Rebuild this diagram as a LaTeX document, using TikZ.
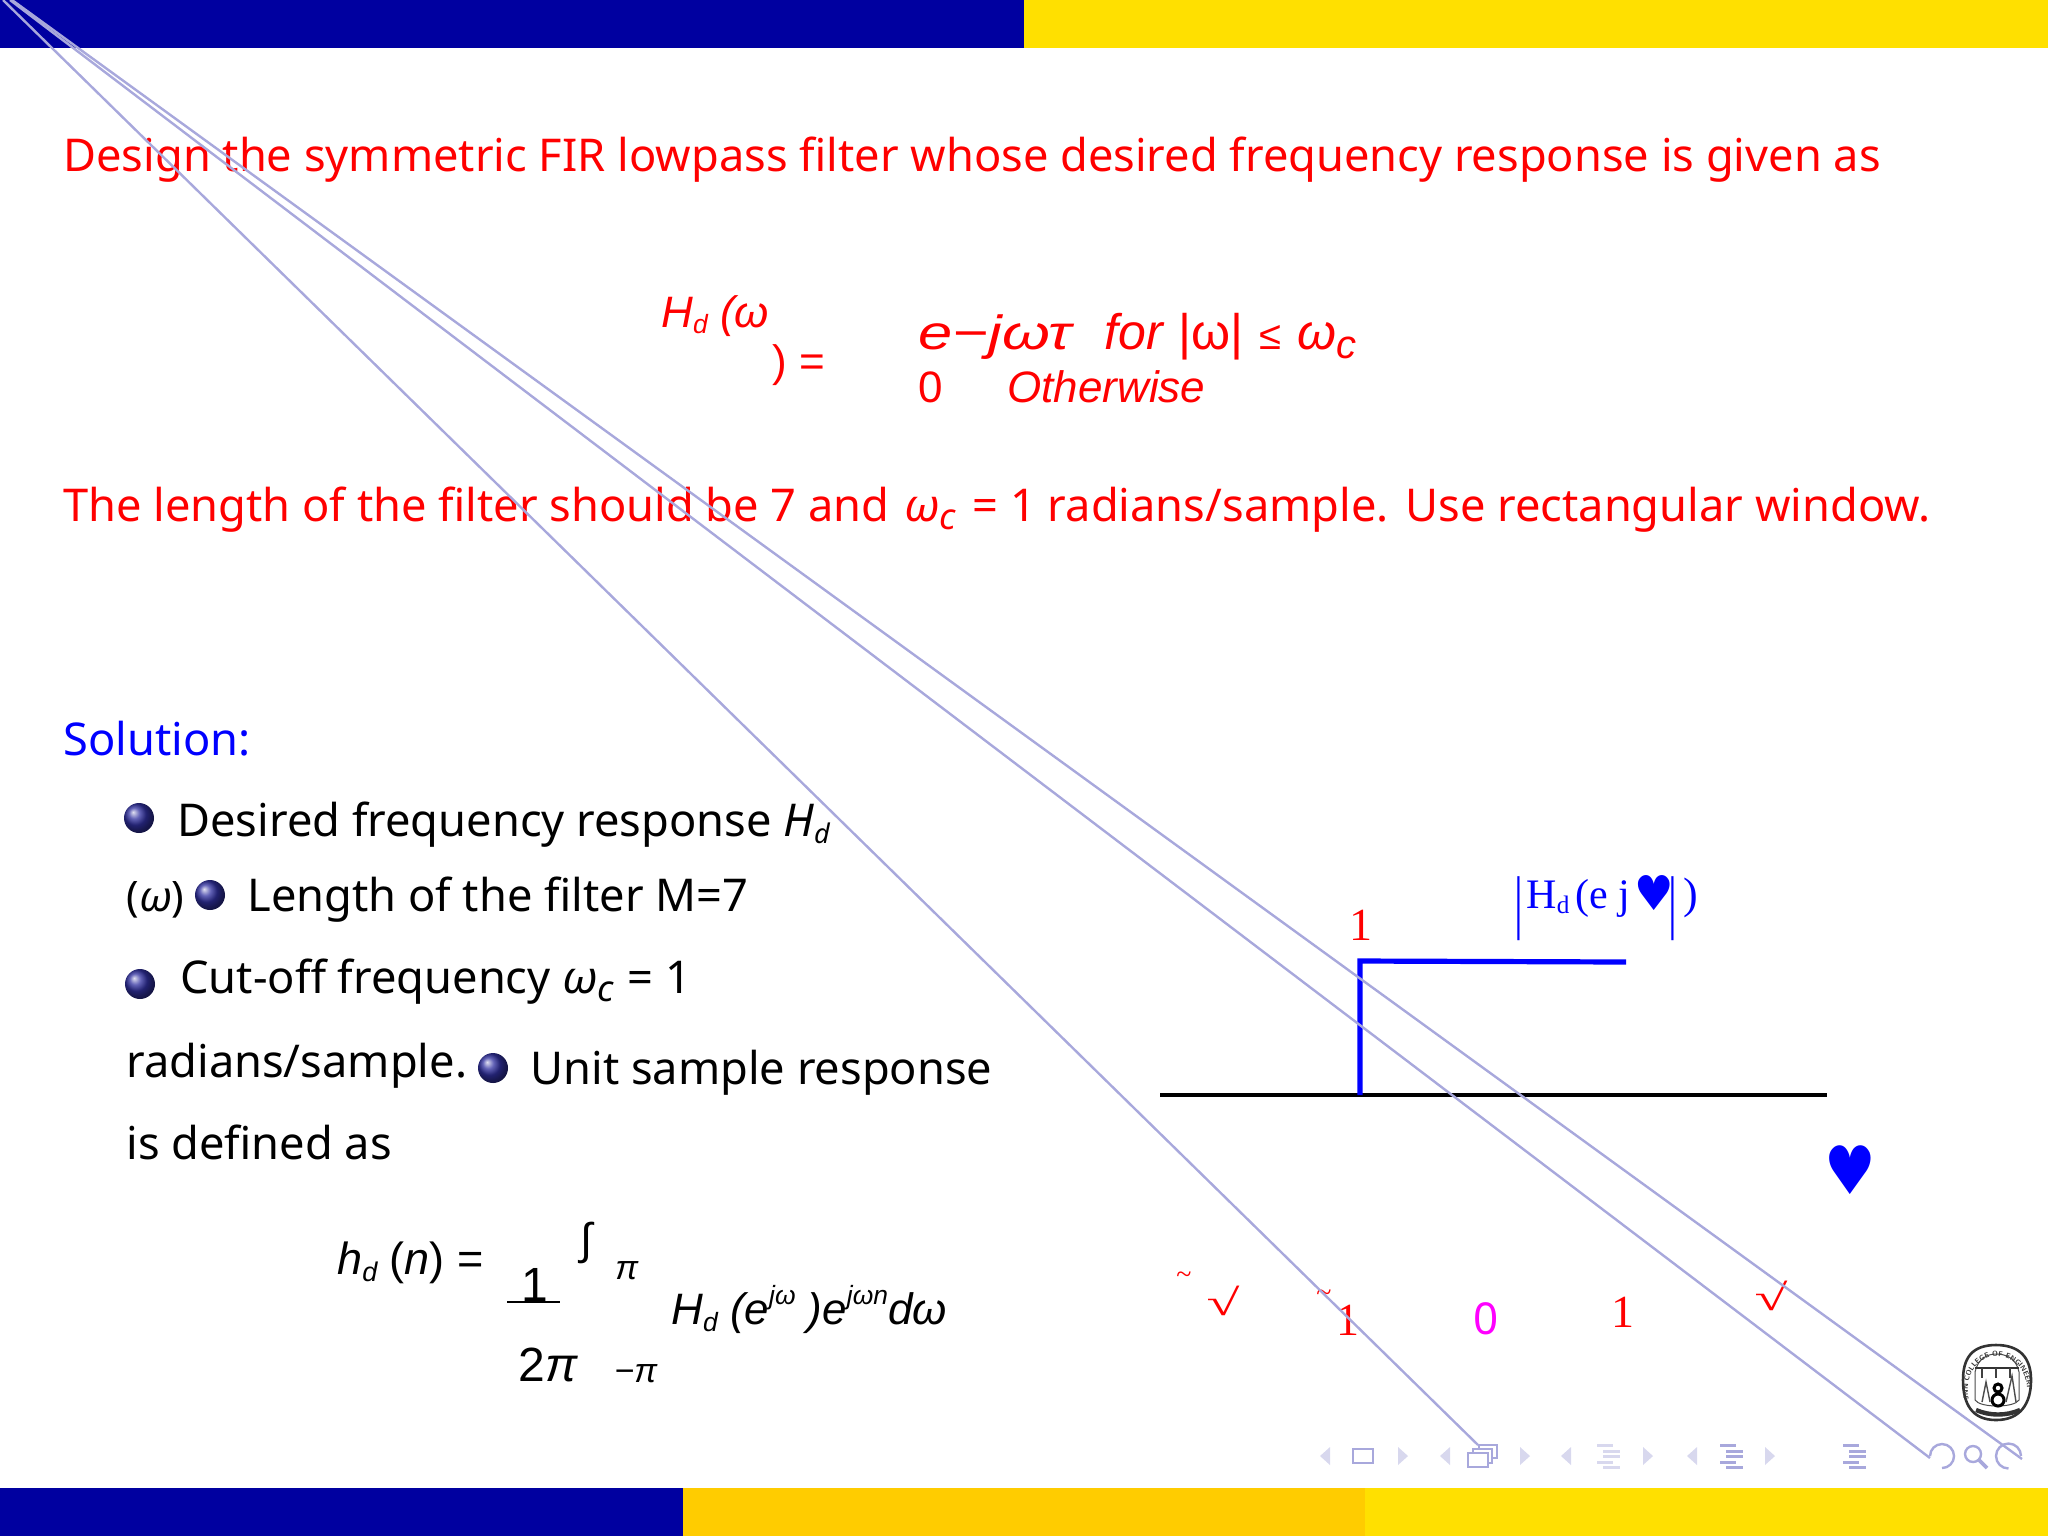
\documentclass[tikz,border=0pt]{standalone}
\usepackage{fontspec}
\setmainfont{Noto Sans}
\newfontfamily\eqfont{Liberation Sans}
\newfontfamily\chartfont{Liberation Serif}
\newfontfamily\markfont{DejaVu Sans}
\usetikzlibrary{decorations.text}
\definecolor{barblue}{HTML}{0000A0}
\definecolor{baryellow}{HTML}{FFE000}
\definecolor{barorange}{HTML}{FFCC00}
\definecolor{navline}{HTML}{A8A8DC}
\definecolor{navpale}{HTML}{D8D8EE}
\definecolor{ballblue}{HTML}{3030A0}
\definecolor{plotred}{HTML}{FF0000}
\definecolor{plotblue}{HTML}{0000FF}
\definecolor{plotpink}{HTML}{FF00FF}
\newcommand{\sz}[1]{\fontsize{#1}{#1}\selectfont}
\newcommand{\lowsm}[1]{\raisebox{-0.3ex}{\scalebox{0.6}{#1}}}
\newcommand{\lowbg}[1]{\raisebox{-0.35ex}{\scalebox{0.8}{#1}}}
\newcommand{\upsm}[1]{\raisebox{0.85ex}{\scalebox{0.6}{#1}}}

\begin{document}
\begin{tikzpicture}[x=0.5pt,y=-0.5pt,
                txt/.style={inner sep=0pt,anchor=base west},
                body/.style={txt,font=\sz{22.6}},
                eqn/.style={txt,font=\eqfont\itshape\sz{22}},
                plotlabel/.style={inner sep=0pt,plotred,font=\chartfont\sz{23}},
                tick/.style={inner sep=0pt,plotred,font=\chartfont\sz{30}},
                ball/.style={circle,inner sep=0pt,minimum size=15pt,shading=ball,ball color=ballblue},
                stray/.style={navline,line width=1.2pt},
                navthick/.style={navline,line width=1.2pt}]

            \useasboundingbox (0,0) rectangle (2048,1538);

            % bars
            \fill[barblue] (0,0) rectangle (1024,48);
            \fill[baryellow] (1024,0) rectangle (2048,48);
            \fill[barblue] (0,1488) rectangle (683,1536);
            \fill[barorange] (683,1488) rectangle (1365,1536);
            \fill[baryellow] (1365,1488) rectangle (2048,1536);

            % problem statement
            \node[body,plotred] (design) at (63,171) {Design the symmetric FIR lowpass filter whose desired frequency response is given as};
            \node[eqn,plotred] (hdw) at (661,327) {H\lowsm{d} (ω};
            \node[eqn,plotred,font=\eqfont\sz{22}] (eqsign) at (772,376) {) =};
            \node[eqn,plotred,font=\eqfont\itshape\sz{24}] (expo) at (918,349) {\scalebox{1.28}[1]{e−jωτ}};
            \node[eqn,plotred,font=\eqfont\itshape\sz{25}] (forw) at (1104,349) {for\hspace{1pt} {\upshape|ω|}\hspace{1pt} {\upshape\scalebox{0.8}{≤}}\hspace{1pt} ω\lowbg{c}};
            \node[eqn,plotred,font=\eqfont\sz{22}] (zero) at (918,402) {0};
            \node[eqn,plotred] (other) at (1007,402) {Otherwise};
            \node[body,plotred] (length) at (63,521) {The length of the filter should be 7 and\hspace{1.5pt} {\itshape ω\lowbg{c}}\hspace{2.5pt} = 1 radians/sample.};
            \node[body,plotred] (window) at (1405,521) {Use rectangular window.};

            % solution list
            \node[body,plotblue] (solution) at (63,755) {Solution:};
            \node[ball] (balla) at (139,818) {};
            \node[ball] (ballb) at (210,895) {};
            \node[ball] (ballc) at (140,984) {};
            \node[ball] (balld) at (493,1068) {};
            \node[body] (desired) at (177,836) {Desired frequency response {\itshape H\lowsm{d}}};
            \node[body,font=\sz{21}] (omega) at (126,911) {({\itshape ω})};
            \node[body] (filter) at (247,911) {Length of the filter M=7};
            \node[body] (cutoff) at (180,993) {Cut-off frequency {\itshape ω\lowbg{c}}\hspace{1pt} = 1};
            \node[body] (radians) at (126,1077) {radians/sample.};
            \node[body] (unit) at (530,1084) {Unit sample response};
            \node[body] (defined) at (126,1159) {is defined as};

            % unit sample formula
            \node[eqn,font=\eqfont\itshape\sz{22.5}] (hdn) at (337,1274) {h\lowsm{d} {\upshape(}{\itshape n}{\upshape)} {\upshape=}};
            \node[eqn,font=\eqfont\sz{24}] (one) at (521,1301) {1};
            \coordinate (fracl) at (507,1302);
            \coordinate (fracr) at (560,1302);
            \draw[line width=1pt] (fracl) -- (fracr);
            \node[eqn,font=\eqfont\sz{24}] (twopi) at (518,1381) {2{\itshape π}};
            \node[eqn,font=\eqfont\sz{22}] (integral) at (580,1254) {∫};
            \node[eqn,font=\eqfont\itshape\sz{17}] (upper) at (615,1279) {π};
            \node[eqn,font=\eqfont\itshape\sz{17}] (lower) at (614,1382) {−π};
            \node[eqn] (inner) at (671,1324) {H\lowsm{d} (e\upsm{jω} )e\upsm{jωn}dω};

            % plot
            \coordinate (axisl) at (1160,1095);
            \coordinate (axisr) at (1827,1095);
            \coordinate (stepb) at (1360,1095);
            \coordinate (stept) at (1360,961);
            \coordinate (stepe) at (1626,962);
            \draw[line width=2.4pt] (axisl) -- (axisr);
            \draw[plotblue,line width=2.6pt] (stepb) -- (stept) -- (stepe);
            \node[plotlabel] (unity) at (1361,925) {1};
            \node[txt,plotblue,font=\chartfont\sz{22}] (barl) at (1514,925) {\scalebox{1}[1.6]{|}};
            \node[txt,plotblue,font=\chartfont\sz{21}] (hd) at (1526,908) {H\lowsm{d}};
            \node[txt,plotblue,font=\chartfont\sz{21}] (ej) at (1575,908) {(e j};
            \node[txt,plotblue,font=\markfont\sz{20}] (hearts) at (1634,910) {\scalebox{1.1}[1.2]{♥}};
            \node[txt,plotblue,font=\chartfont\sz{22}] (barr) at (1668,925) {\scalebox{1}[1.6]{|}};
            \node[txt,plotblue,font=\chartfont\sz{22}] (close) at (1683,908) {)};
            \node[plotblue,inner sep=0pt,font=\markfont\sz{36}] (heartb) at (1850,1170) {\scalebox{0.8}[0.93]{♥}};
            \node[plotlabel,font=\chartfont\sz{14}] (tildea) at (1184,1278) {\char`~};
            \node[tick] (ticka) at (1223,1301) {\scalebox{1}[0.62]{√}};
            \node[plotlabel,font=\chartfont\sz{14}] (tildeb) at (1324,1296) {\char`~};
            \node[plotlabel] (minus) at (1348,1320) {1};
            \node[plotlabel,plotpink,font=\sz{22}] (nought) at (1486,1319) {0};
            \node[plotlabel] (plus) at (1623,1312) {1};
            \node[tick] (tickb) at (1771,1296) {\scalebox{1}[0.62]{√}};

            % nav symbols
            \foreach \x in {1325,1445,1566,1692}
                \fill[navpale] (\x-5,1456) -- (\x+5,1447) -- (\x+5,1465) -- cycle;
            \foreach \x in {1403,1525,1648,1770}
                \fill[navpale] (\x+5,1456) -- (\x-5,1447) -- (\x-5,1465) -- cycle;
            \draw[navthick] (1353,1449) rectangle (1373,1463);
            \draw[navthick] (1468,1453) rectangle (1488,1467);
            \draw[navthick] (1473,1453) -- (1473,1449) -- (1492,1449) -- (1492,1463) -- (1488,1463);
            \draw[navthick] (1479,1449) -- (1479,1445) -- (1497,1445) -- (1497,1458) -- (1492,1458);
            \foreach \x/\c in {1597/navpale,1720/navline,1843/navline} {
                \draw[\c,line width=1.5pt] (\x,1445) -- (\x+16,1445);
                \draw[\c,line width=1.5pt] (\x+6,1451) -- (\x+23,1451);
                \draw[\c,line width=1.5pt] (\x+6,1456) -- (\x+23,1456);
                \draw[\c,line width=1.5pt] (\x,1462) -- (\x+16,1462);
                \draw[\c,line width=1.5pt] (\x+6,1467) -- (\x+23,1467);
            }
            \draw[navthick] (1930,1456) arc (180:450:12);
            \draw[navthick] (1973,1454) circle (4pt);
            \draw[navline,line width=1.8pt] (1979,1460) -- (1987,1468);
            \draw[navthick] (2021,1456) arc (0:-270:12.5);

            % college seal
            \draw[black!80,line width=1.3pt,fill=white] (1996,1345) .. controls (2020,1345) and (2031,1358) .. (2031,1380) .. controls (2031,1404) and (2020,1420) .. (1996,1420) .. controls (1972,1420) and (1963,1404) .. (1963,1380) .. controls (1963,1358) and (1972,1345) .. (1996,1345) -- cycle;
            \draw[black!70,line width=0.5pt] (1975,1372) .. controls (1978,1358) and (1988,1354) .. (1996,1354) .. controls (2006,1354) and (2016,1358) .. (2019,1372) -- (2019,1400) .. controls (2014,1408) and (1980,1408) .. (1975,1400) -- cycle;
            \path[postaction={decorate},decoration={text along path,text align=center,
                text={|\sffamily\bfseries\fontsize{3.6}{4}\selectfont\color{black!80}|JNN COLLEGE OF ENGINEERING}}]
                (1968,1388) .. controls (1970,1346) and (2024,1346) .. (2027,1388);
            \draw[black!80,line width=1pt] (1975,1368) -- (2019,1368);
            \draw[black!75,line width=0.6pt] (1982,1368) -- (1982,1378) (1996,1368) -- (1996,1378) (2010,1368) -- (2010,1378);
            \draw[black,line width=1.5pt] (1998,1388) circle (2pt) (1998,1400) circle (3pt);
            \draw[black!70,line width=0.7pt] (1982,1402) -- (1986,1382) -- (1990,1402) (2006,1402) -- (2012,1376) -- (2016,1402);
            \draw[black!80,line width=2.2pt] (1976,1410) .. controls (1990,1416) and (2006,1416) .. (2020,1410);

            % stray lines
            \coordinate (stayaa) at (3,0);
            \coordinate (stayab) at (1478,1445);
            \coordinate (stayba) at (10,0);
            \coordinate (staybb) at (1930,1458);
            \coordinate (stayca) at (12,0);
            \coordinate (staycb) at (2022,1459);
            \draw[stray] (stayaa) -- (stayab);
            \draw[stray] (stayba) -- (staybb);
            \draw[stray] (stayca) -- (staycb);

        \end{tikzpicture}
\end{document}
